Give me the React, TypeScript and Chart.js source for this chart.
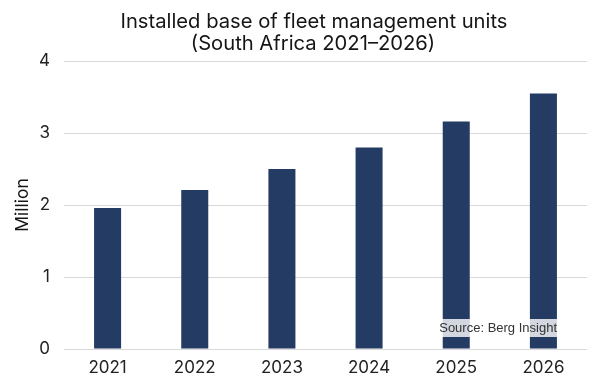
import React, { useEffect, useRef } from "react";
import { Chart, registerables } from "chart.js";

Chart.register(...registerables);

const categories = ["2021", "2022", "2023", "2024", "2025", "2026"];
const installedBase = [1.96, 2.21, 2.5, 2.8, 3.16, 3.55];
const titleLines = ["Installed base of fleet management units", "(South Africa 2021\u20132026)"];
const sourceText = "Source: Berg Insight";
const yAxisTitle = "Million";

const FONT = "Inter, 'Noto Sans', sans-serif";

const titlePlugin = {
  id: "customTitle",
  afterDraw(chart: any) {
    const ctx = chart.ctx;
    ctx.save();
    ctx.font = `20.2px ${FONT}`;
    ctx.fillStyle = "#151515";
    ctx.textAlign = "center";
    ctx.textBaseline = "alphabetic";
    ctx.fillText(titleLines[0], 314, 28);
    ctx.fillText(titleLines[1], 313, 50);
    ctx.restore();
  },
};

const sourcePlugin = {
  id: "sourceLabel",
  afterDatasetsDraw(chart: any) {
    const ctx = chart.ctx;
    const area = chart.chartArea;
    ctx.save();
    ctx.font = "13px 'Liberation Sans', Arial, sans-serif";
    const w = ctx.measureText(sourceText).width;
    const x = area.right - 30 - w;
    const y = area.bottom - 21;
    ctx.fillStyle = "rgba(255,255,255,0.8)";
    ctx.fillRect(x, y - 9, w, 18);
    ctx.fillStyle = "#333333";
    ctx.textBaseline = "middle";
    ctx.textAlign = "left";
    ctx.fillText(sourceText, x, y);
    ctx.restore();
  },
};

export default function App() {
  const ref = useRef<HTMLCanvasElement | null>(null);
  useEffect(() => {
    document.body.style.margin = "0";
    if (!ref.current) return;
    const chart = new Chart(ref.current, {
      type: "bar",
      data: {
        labels: categories,
        datasets: [
          {
            data: installedBase,
            backgroundColor: "#243b64",
            borderWidth: 0,
            categoryPercentage: 1,
            barPercentage: 0.31,
          },
        ],
      },
      options: {
        animation: false,
        responsive: false,
        maintainAspectRatio: false,
        layout: { padding: { left: 0, right: 13, top: 61, bottom: 0 } },
        plugins: {
          legend: { display: false },
          tooltip: { enabled: false },
          title: { display: false },
        },
        scales: {
          x: {
            grid: { display: false, drawTicks: false },
            border: { display: false },
            ticks: {
              color: "#222222",
              font: { family: FONT, size: 17 },
              padding: 9,
            },
            afterFit(scale: any) {
              scale.height = 31;
            },
          },
          y: {
            min: 0,
            max: 4,
            grid: { color: "#d9d9d9", drawTicks: false, lineWidth: 1 },
            border: { display: false },
            ticks: {
              stepSize: 1,
              color: "#222222",
              font: { family: FONT, size: 17 },
              padding: 14,
            },
            title: {
              display: true,
              text: yAxisTitle,
              color: "#151515",
              font: { family: FONT, size: 17.5 },
              padding: { top: 12, bottom: 0 },
            },
            afterFit(scale: any) {
              scale.width = 64;
            },
          },
        },
      },
      plugins: [sourcePlugin, titlePlugin],
    });
    return () => chart.destroy();
  }, []);
  return <canvas ref={ref} width={600} height={380} style={{ display: "block" }} />;
}
